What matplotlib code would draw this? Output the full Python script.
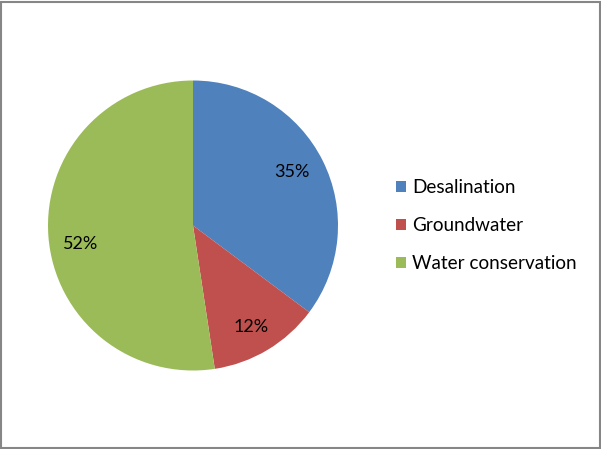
import numpy as np
import matplotlib.pyplot as plt
from matplotlib.patches import Rectangle

categories = ["Desalination", "Groundwater", "Water conservation"]
shares = [35.2, 12.4, 52.4]
pct_labels = ["35%", "12%", "52%"]
colors = ["#4F81BD", "#C0504D", "#9BBB59"]

# small nudges (points) so the % labels sit where Excel put them
label_nudge = [(-1.5, 2), (0, -3.5), (0.5, -7.5)]


def main():
    plt.rcParams["font.family"] = ["Lato", "DejaVu Sans"]

    W, H = 601, 449
    fig = plt.figure(figsize=(W / 100, H / 100), dpi=100)
    fig.patch.set_facecolor("white")

    # pie centred at about (193, 226) px, radius 145 px
    cx, cy, r = 193, 225.5, 145
    ax = fig.add_axes([(cx - r) / W, (H - cy - r) / H, 2 * r / W, 2 * r / H])
    wedges, _ = ax.pie(
        shares,
        colors=colors,
        startangle=90,
        counterclock=False,
        radius=1.0,
        wedgeprops=dict(linewidth=0),
    )
    for w, lab, nd in zip(wedges, pct_labels, label_nudge):
        ang = np.deg2rad((w.theta1 + w.theta2) / 2)
        ax.annotate(lab, (0.78 * np.cos(ang), 0.78 * np.sin(ang)),
                    xytext=nd, textcoords="offset points",
                    ha="center", va="center", fontsize=13, color="black")
    ax.set_xlim(-1, 1)
    ax.set_ylim(-1, 1)
    ax.set_aspect("equal")
    ax.axis("off")

    fig.legend(
        wedges,
        categories,
        loc="center left",
        bbox_to_anchor=(396 / W, 1 - 225.5 / H),
        frameon=False,
        fontsize=13.6,
        borderpad=0,
        borderaxespad=0,
        handlelength=0.54,
        handleheight=0.54,
        handletextpad=0.3,
        labelspacing=1.12,
    )

    # outer chart border
    fig.patches.append(Rectangle((1 / W, 1 / H), (W - 2.5) / W, (H - 2.5) / H,
                                 transform=fig.transFigure, fill=False,
                                 edgecolor="#868686", linewidth=1.5))

    fig.savefig("out.png", dpi=100)


if __name__ == "__main__":
    main()
